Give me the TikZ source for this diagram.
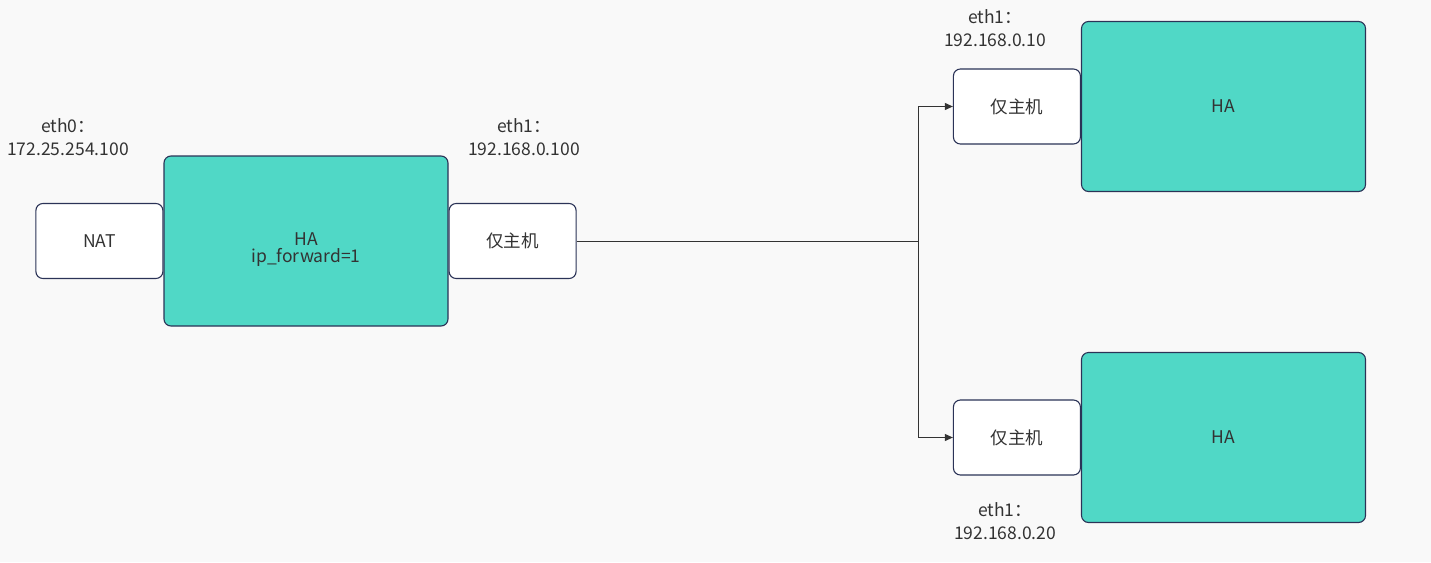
\documentclass[tikz,border=0pt]{standalone}
\usepackage{fontspec}
\setmainfont{Noto Sans CJK SC}
\usetikzlibrary{arrows.meta, positioning}
\definecolor{bgcol}{HTML}{F9F9F9}
\definecolor{hacol}{HTML}{50D8C6}
\definecolor{edgecol}{HTML}{2B3357}
\definecolor{txtcol}{HTML}{333333}
\tikzset{
  nic/.style = {
    draw=edgecol, fill=white, line width=1.1pt, rounded corners=7pt,
    minimum width=127pt, minimum height=75pt, inner sep=0pt,
    text=txtcol, font=\fontsize{17.5}{22}\selectfont
  },
  hostbox/.style = {
    draw=edgecol, fill=hacol, line width=1.1pt, rounded corners=7pt,
    minimum width=284pt, minimum height=170pt, inner sep=0pt,
    text=txtcol, align=center, font=\fontsize{17.5}{17}\selectfont
  },
  addr/.style = {
    align=center, text=txtcol, inner sep=0pt,
    font=\fontsize{17.5}{23}\selectfont
  },
  link/.style = {draw=txtcol, line width=1pt}
}

\begin{document}
\begin{tikzpicture}[x=1pt, y=-1pt]

  \fill[bgcol] (0,0) rectangle (1431,562);
  \useasboundingbox (0,0) rectangle (1431,562);

  % Left HA with its two interfaces
  \node[hostbox] (ha) at (306,241) {};
  \node[align=center, text=txtcol, font=\fontsize{17.5}{17}\selectfont] (hatext) at (306,250) {HA\\ip\_forward=1};
  \node[nic, left=0pt of ha] (nat) {NAT};
  \node[nic, right=0pt of ha] (lhost) {仅主机};
  \node[addr] (eth0) at (68,137) {eth0：\\172.25.254.100};
  \node[addr] (eth1a) at (524,137) {eth1：\\192.168.0.100};

  % Upper HA
  \node[hostbox] (hatop) at (1223.5,106.5) {HA};
  \node[nic, left=0pt of hatop] (thost) {仅主机};
  \node[addr] (eth1b) at (995,28) {eth1：\\192.168.0.10};

  % Lower HA
  \node[hostbox] (habot) at (1223.5,437.5) {HA};
  \node[nic, left=0pt of habot] (bhost) {仅主机};
  \node[addr] (eth1c) at (1005,521) {eth1：\\192.168.0.20};

  % Links
  \coordinate (split) at (918,241);
  \draw[link] (lhost.east) -- (split);
  \draw[link, -{Triangle[length=8pt, width=7pt]}] (split) |- (thost.west);
  \draw[link, -{Triangle[length=8pt, width=7pt]}] (split) |- (bhost.west);

\end{tikzpicture}
\end{document}
